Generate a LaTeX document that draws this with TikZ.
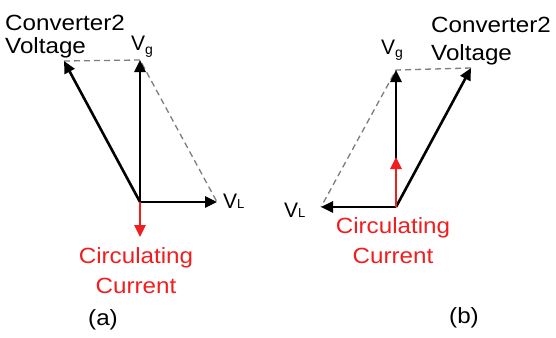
\documentclass[tikz,border=0pt]{standalone}
\usepackage{fontspec}
\setmainfont{Liberation Sans}
\newfontfamily\lblfont[FakeStretch=1.1]{Liberation Sans}
\usetikzlibrary{arrows.meta,positioning}
\definecolor{phasorred}{RGB}{240,30,30}
\definecolor{guidegray}{RGB}{125,125,125}
\newcommand{\vlsub}{V{\fontsize{13}{14}\selectfont L}}
\newcommand{\vgsub}{V\raisebox{-4pt}{\fontsize{14}{15}\selectfont g}}

\begin{document}
\begin{tikzpicture}[
        x=1pt, y=-1pt,
        % Phasor arrows: thick line, filled triangle tip
        phasor/.style={
            line width=2.6pt,
            -{Triangle[length=12pt,width=11pt]}
        },
        % Circulating current arrow
        current/.style={
            phasor,
            phasorred
        },
        % Dashed parallelogram sides
        guide/.style={
            guidegray,
            line width=1.3pt,
            dash pattern=on 6pt off 4pt
        },
        % Text labels
        label style/.style={
            font=\lblfont\fontsize{22}{23}\selectfont,
            inner sep=0pt
        },
        volt style/.style={
            font=\fontsize{21}{22}\selectfont,
            inner sep=0pt
        }
    ]
    \useasboundingbox (0,0) rectangle (556,337);

        % (a): phasor end points
        \coordinate (oa)  at (140,202);
        \coordinate (vga) at (140,60);
        \coordinate (vca) at (64,61);
        \coordinate (vla) at (217,202);
        \coordinate (ica) at (140,237);

        \draw[guide] (vca) -- (vga) -- (vla);
        \draw[phasor] (oa) -- (vca);  % converter2 voltage
        \draw[phasor] (oa) -- (vga);  % V_g
        \draw[phasor] (oa) -- (vla);  % V_L
        \draw[current] (oa) -- (ica); % circulating current

        \node[label style, align=left, anchor=base west] (cva) at (5,53) {Converter2\\Voltage};
        \node[volt style, anchor=base west] (vgla) at (131,50) {\vgsub};
        \node[volt style, anchor=base west] (vlla) at (223,208) {\vlsub};
        \node[label style, phasorred, align=center, anchor=base, font=\lblfont\fontsize{22}{30}\selectfont] (cca) at (136,293) {Circulating\\Current};
        \node[label style, anchor=base] (capa) at (103,325) {(a)};

        % (b): phasor end points
        \coordinate (ob)  at (396,207);
        \coordinate (vgb) at (396,70);
        \coordinate (vcb) at (471,68);
        \coordinate (vlb) at (321,207);
        \coordinate (icb) at (396,157);

        \draw[guide] (vcb) -- (vgb) -- (vlb);
        \draw[phasor] (ob) -- (vcb);  % converter2 voltage
        \draw[phasor] (ob) -- (vgb);  % V_g
        \draw[phasor] (ob) -- (vlb);  % V_L
        \draw[current] (ob) -- (icb); % circulating current

        \node[label style, align=left, anchor=base west, font=\lblfont\fontsize{22}{28}\selectfont] (cvb) at (431,60) {Converter2\\Voltage};
        \node[volt style, anchor=base west] (vglb) at (381,54) {\vgsub};
        \node[volt style, anchor=base west] (vllb) at (284,217) {\vlsub};
        \node[label style, phasorred, align=center, anchor=base, font=\lblfont\fontsize{22}{30}\selectfont] (ccb) at (393,263) {Circulating\\Current};
        \node[label style, anchor=base] (capb) at (464,323) {(b)};

    \end{tikzpicture}
\end{document}
